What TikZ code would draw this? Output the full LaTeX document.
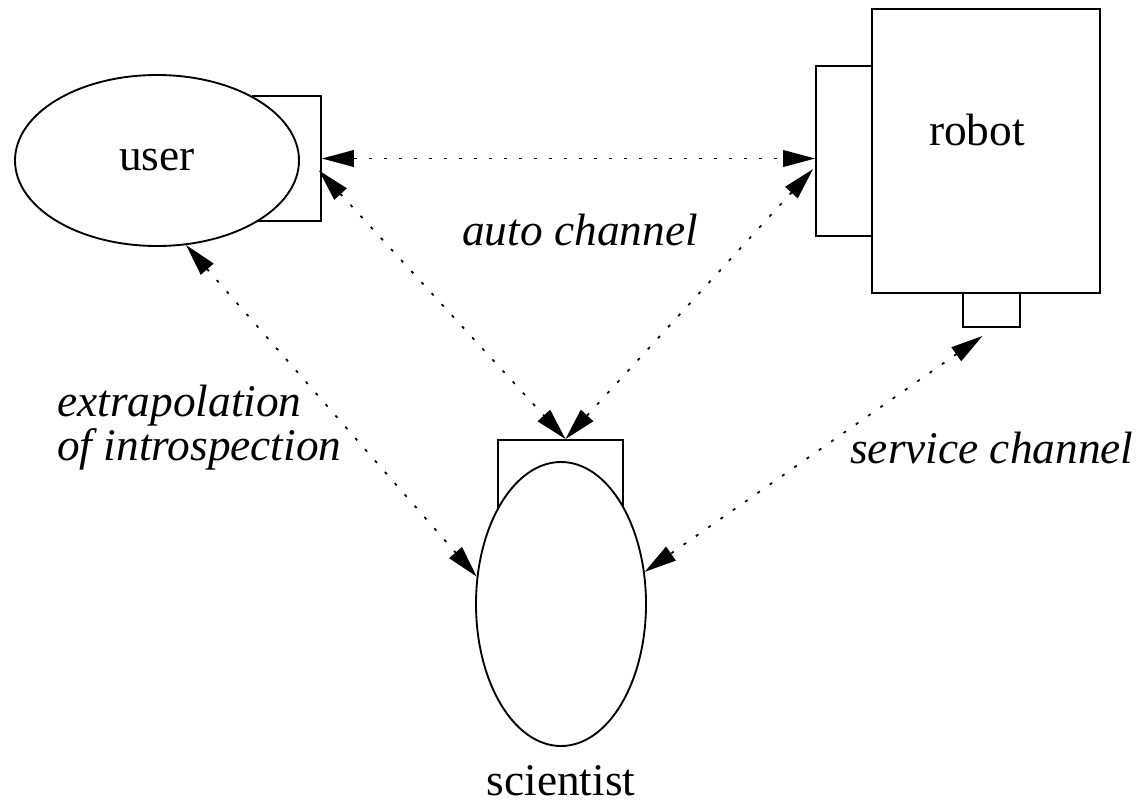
\documentclass[tikz,border=0pt]{standalone}
\usepackage{fontspec}
\setmainfont{Liberation Serif}
\usetikzlibrary{shapes.geometric,arrows.meta,calc}

\tikzset{
  plate/.style={draw, line width=1.4pt, rectangle, inner sep=0pt, fill=white},
  actor/.style={draw, line width=1.4pt, ellipse, inner sep=0pt, fill=white,
                font=\fontsize{34}{36}\selectfont},
  caption/.style={inner sep=0pt, font=\fontsize{34}{36}\selectfont},
  chanlabel/.style={inner sep=0pt, font=\fontsize{34}{32.3}\selectfont\itshape},
  chan/.style={line width=1.3pt, dash pattern=on 2.25pt off 9pt,
               {Triangle[length=24pt,width=12.5pt]}-{Triangle[length=24pt,width=12.5pt]}}
}

\begin{document}
\begin{tikzpicture}[x=0.75pt, y=-0.75pt]
\useasboundingbox (0,0) rectangle (1142,803);

% user with its interface plate
\node[plate, minimum width=51pt, minimum height=93.75pt] (userport) at (287,158.5) {};
\node[actor, minimum width=213pt, minimum height=128.25pt] (user) at (157,160.5) {user};

% robot body, side panel and foot
\node[plate, minimum width=42pt, minimum height=127.5pt] (robotport) at (844,151) {};
\node[plate, minimum width=171pt, minimum height=213pt] (robot) at (986,151) {};
\node[plate, minimum width=42.75pt, minimum height=25.5pt] (robotfoot) at (991.5,310) {};
\node[caption, anchor=base] (robotname) at (977,145) {robot};

% scientist with its head plate
\node[plate, minimum width=93.75pt, minimum height=75pt] (scientport) at (560.5,490) {};
\node[actor, minimum width=127.5pt, minimum height=213pt] (scientist) at (561,604) {};
\node[caption, anchor=base] (scientistname) at (561,795) {scientist};

% channel end points
\coordinate (uA) at ($(userport.east)+(-3,12)$);
\coordinate (rA) at ($(robotport.west)+(-2,18)$);
\coordinate (sTop) at ($(scientport.north)+(5,0)$);
\coordinate (rFoot) at ($(robotfoot.south)+(-9,8)$);

% channels
\draw[chan] (userport.east) -- (userport.east -| robotport.west);
\draw[chan] (uA) -- (sTop);
\draw[chan] (rA) -- (sTop);
\draw[chan] (user.-71) -- (scientist.162);
\draw[chan] (rFoot) -- (scientist.21);

% channel labels
\node[chanlabel, anchor=base] (autolbl) at (580,245) {auto channel};
\node[chanlabel, anchor=base west, align=left] (extralbl) at (57,460) {extrapolation\\of introspection};
\node[chanlabel, anchor=base west] (servicelbl) at (850,463) {service channel};
\end{tikzpicture}
\end{document}
